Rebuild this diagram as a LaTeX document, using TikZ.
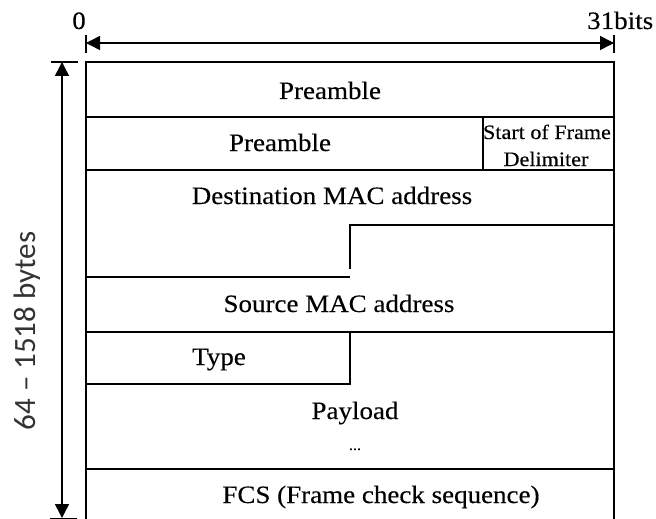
\documentclass[tikz,border=0pt]{standalone}
\usepackage{fontspec}
\setmainfont{Liberation Serif}[FakeStretch=1.08,FakeBold=0.3]
\newfontfamily\sidefont{Carlito}
\usetikzlibrary{arrows.meta}

\begin{document}
\begin{tikzpicture}[x=1pt,y=-1pt,
    rule/.style={line width=1.5pt,line cap=rect},
    dimline/.style={line width=1.5pt,{Triangle[length=14pt,width=14pt]}-{Triangle[length=14pt,width=14pt]}},
    tick/.style={line width=1.5pt},
    field/.style={font=\fontsize{25}{28}\selectfont,inner sep=0pt,anchor=base},
    small/.style={font=\fontsize{20.5}{24}\selectfont,inner sep=0pt,anchor=base},
  ]
  \useasboundingbox (0,0) rectangle (656,519);

  % frame outline (runs past the lower edge)
  \coordinate (tl) at (86,62);
  \coordinate (tr) at (614,62);
  \coordinate (bl) at (86,530);
  \coordinate (br) at (614,530);
  \draw[rule] (bl) -- (tl) -- (tr) -- (br);

  % field boundaries
  \coordinate (r1l) at (86,117);  \coordinate (r1r) at (614,117);
  \coordinate (r2l) at (86,170);  \coordinate (r2r) at (614,170);
  \coordinate (s1a) at (350,225); \coordinate (s1b) at (614,225);
  \coordinate (s1c) at (350,268);
  \coordinate (s2a) at (86,277);  \coordinate (s2b) at (349,277);
  \coordinate (r3l) at (86,332);  \coordinate (r3r) at (614,332);
  \coordinate (t1) at (350,332);  \coordinate (t2) at (350,384);
  \coordinate (t3) at (86,384);
  \coordinate (r4l) at (86,469);  \coordinate (r4r) at (614,469);
  \coordinate (sfdt) at (483,117); \coordinate (sfdb) at (483,170);

  \draw[rule] (r1l) -- (r1r);
  \draw[rule] (r2l) -- (r2r);
  \draw[rule] (sfdt) -- (sfdb);
  \draw[rule] (s1c) -- (s1a) -- (s1b);
  \draw[rule] (s2a) -- (s2b);
  \draw[rule] (r3l) -- (r3r);
  \draw[rule] (t1) -- (t2) -- (t3);
  \draw[rule] (r4l) -- (r4r);

  % bit width dimension
  \coordinate (hl) at (86,43);
  \coordinate (hr) at (614,43);
  \coordinate (hlt) at (86,35);  \coordinate (hlb) at (86,53);
  \coordinate (hrt) at (614,35); \coordinate (hrb) at (614,53);
  \draw[tick] (hlt) -- (hlb);
  \draw[tick] (hrt) -- (hrb);
  \draw[dimline] (hl) -- (hr);

  % frame length dimension
  \coordinate (vt) at (62,62);
  \coordinate (vb) at (62,518);
  \coordinate (vtl) at (51,62);  \coordinate (vtr) at (78,62);
  \coordinate (vbl) at (50,518.5); \coordinate (vbr) at (77,518.5);
  \draw[tick] (vtl) -- (vtr);
  \draw[tick] (vbl) -- (vbr);
  \draw[dimline] (vt) -- (vb);

  % labels
  \node[field] (zero) at (79,29) {0};
  \node[field,anchor=base west] (bits) at (587,29) {31bits};
  \node[rotate=90,inner sep=0pt,font=\sidefont\fontsize{31}{34}\selectfont,text=black!80] (len) at (27,331) {64 – 1518 bytes};

  \node[field] (pre1) at (330,99) {Preamble};
  \node[field] (pre2) at (280,151) {Preamble};
  \node[small] (sfd1) at (547,139) {Start of Frame};
  \node[small] (sfd2) at (546,166) {Delimiter};
  \node[field] (dst) at (332,204) {Destination MAC address};
  \node[field] (src) at (339,312) {Source MAC address};
  \node[field] (typ) at (219,365) {Type};
  \node[field] (pay) at (355,419) {Payload};
  \node[inner sep=0pt,anchor=base,font=\fontsize{15}{18}\selectfont] (dots) at (355,450) {...};
  \node[field] (fcs) at (381,503) {FCS (Frame check sequence)};
\end{tikzpicture}
\end{document}
